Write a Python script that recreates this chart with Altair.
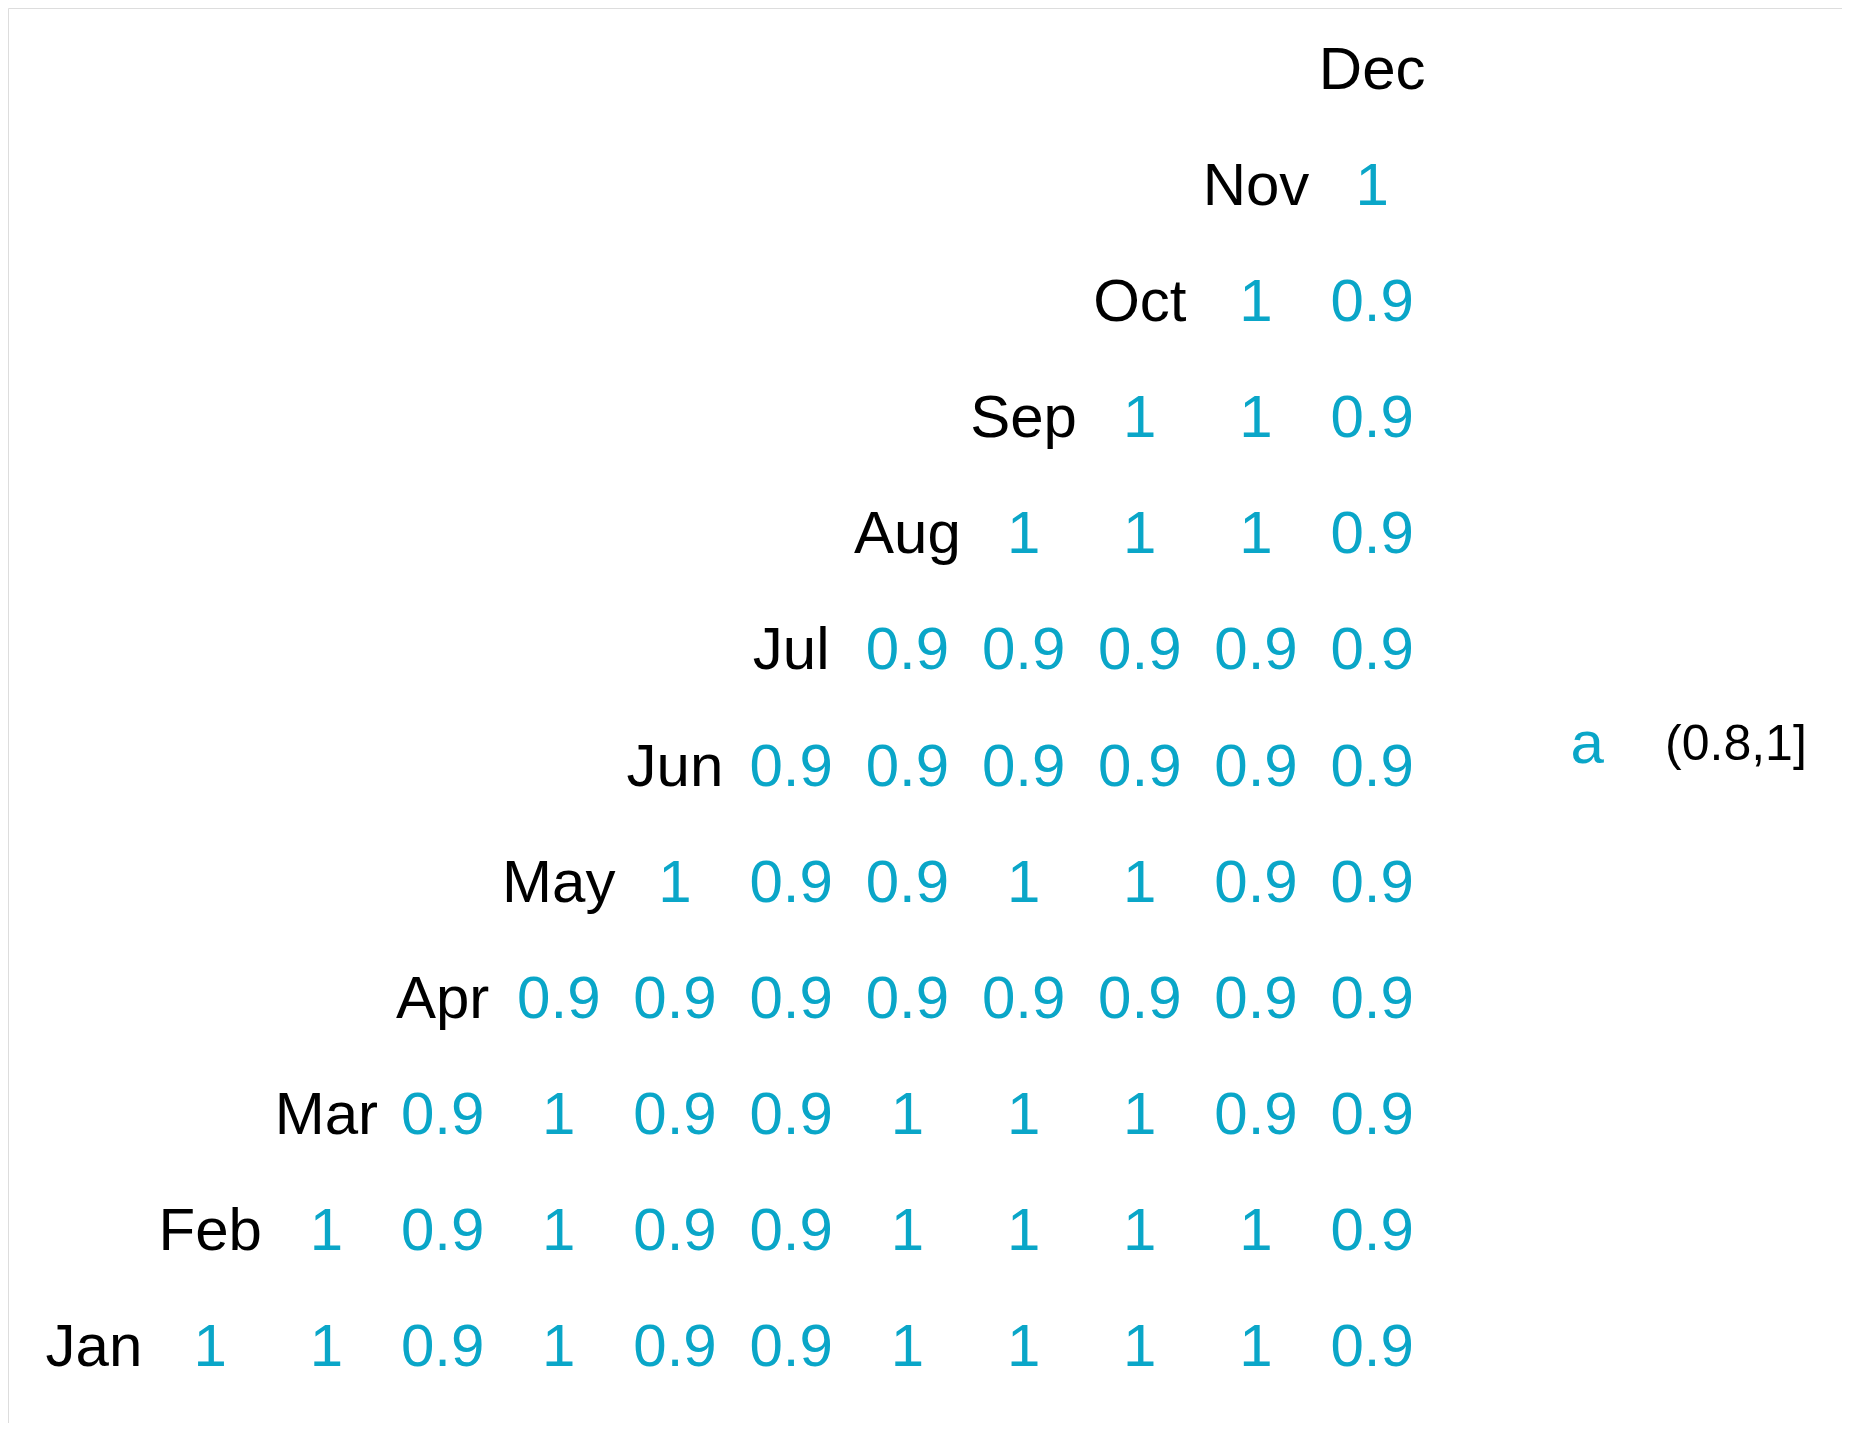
import altair as alt
import pandas as pd

months = ["Jan", "Feb", "Mar", "Apr", "May", "Jun", "Jul", "Aug", "Sep", "Oct", "Nov", "Dec"]

# correlation values for each month with every later month (Feb..Dec for Jan, etc.)
row_values = {
    "Jan": ["1", "1", "0.9", "1", "0.9", "0.9", "1", "1", "1", "1", "0.9"],
    "Feb": ["1", "0.9", "1", "0.9", "0.9", "1", "1", "1", "1", "0.9"],
    "Mar": ["0.9", "1", "0.9", "0.9", "1", "1", "1", "0.9", "0.9"],
    "Apr": ["0.9", "0.9", "0.9", "0.9", "0.9", "0.9", "0.9", "0.9"],
    "May": ["1", "0.9", "0.9", "1", "1", "0.9", "0.9"],
    "Jun": ["0.9", "0.9", "0.9", "0.9", "0.9", "0.9"],
    "Jul": ["0.9", "0.9", "0.9", "0.9", "0.9"],
    "Aug": ["1", "1", "1", "0.9"],
    "Sep": ["1", "1", "0.9"],
    "Oct": ["1", "0.9"],
    "Nov": ["1"],
    "Dec": [],
}

legend_key = ["a"]
legend_labels = ["(0.8,1]"]

label_rows = []
for i, m in enumerate(months):
    label_rows.append({"col": i, "row": i, "text": m})
labels_df = pd.DataFrame(label_rows)

val_rows = []
for i, m in enumerate(months):
    for k, v in enumerate(row_values[m]):
        val_rows.append({"col": i + 1 + k, "row": i, "text": v})
values_df = pd.DataFrame(val_rows)

legend_key_df = pd.DataFrame({"col": [12.85], "row": [5.19], "text": legend_key})
legend_lab_df = pd.DataFrame({"col": [13.52], "row": [5.19], "text": legend_labels})

W, H = 1834, 1415
xscale = alt.Scale(domain=[-0.740, 15.043], nice=False, zero=False)
yscale = alt.Scale(domain=[-0.646, 11.542], nice=False, zero=False)
X = lambda: alt.X("col:Q", scale=xscale, axis=None)
Y = lambda: alt.Y("row:Q", scale=yscale, axis=None)

FONT = "Liberation Sans"
TEAL = "#0AA6C8"

labels = alt.Chart(labels_df).mark_text(
    font=FONT, fontSize=60, color="#000000", baseline="middle", align="center"
).encode(x=X(), y=Y(), text="text:N")

values = alt.Chart(values_df).mark_text(
    font=FONT, fontSize=60, color=TEAL, baseline="middle", align="center"
).encode(x=X(), y=Y(), text="text:N")

lkey = alt.Chart(legend_key_df).mark_text(
    font=FONT, fontSize=60, color=TEAL, baseline="middle", align="center"
).encode(x=X(), y=Y(), text="text:N")

llab = alt.Chart(legend_lab_df).mark_text(
    font=FONT, fontSize=50, color="#000000", baseline="middle", align="left"
).encode(x=X(), y=Y(), text="text:N")

chart = alt.layer(labels, values, lkey, llab).properties(
    width=W, height=H, autosize=alt.AutoSizeParams(type="none"), padding=0
).configure_view(stroke=None).configure(background="white")

chart.save("out.html", embed_options={"renderer": "svg", "actions": False})
